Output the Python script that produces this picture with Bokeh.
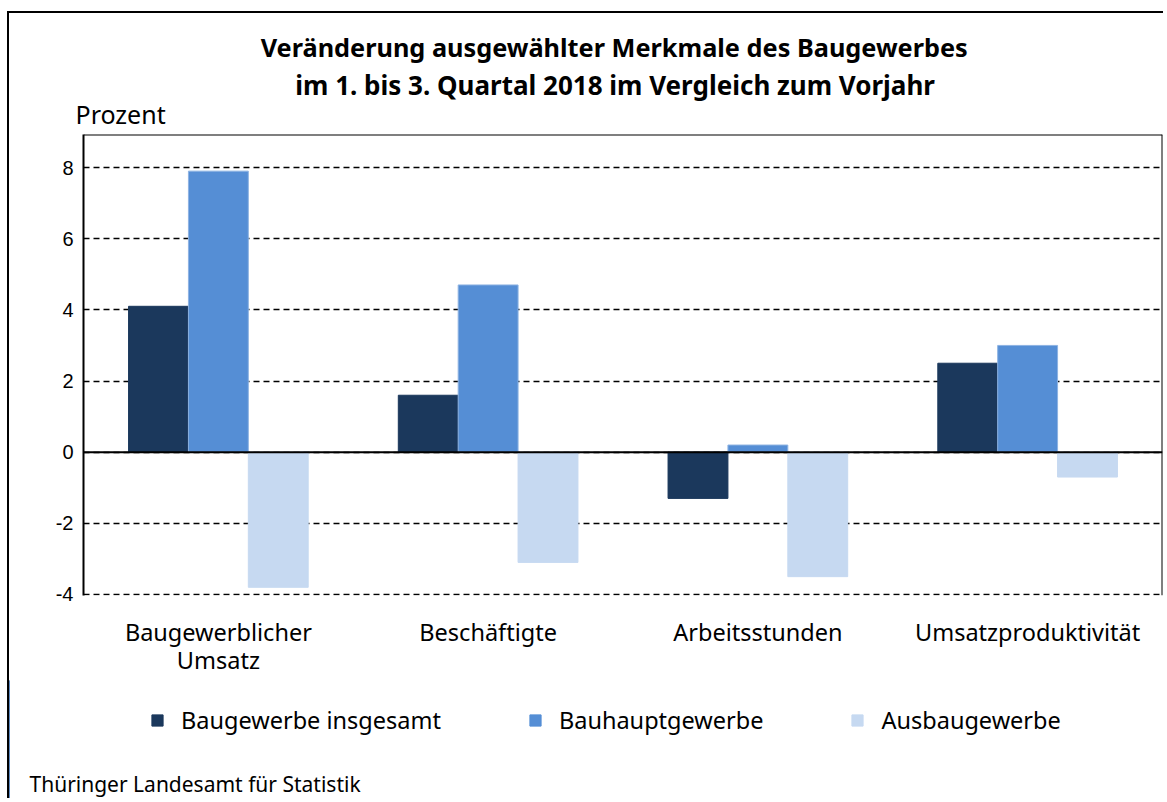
from bokeh.plotting import figure
from bokeh.models import (FactorRange, Range1d, FixedTicker, Span, Legend,
                          LegendItem, ColumnDataSource, Label)
from bokeh.layouts import column
from bokeh.transform import dodge
from bokeh.embed import file_html
from bokeh.resources import INLINE

# ---- data ----
categories = ["Baugewerblicher\nUmsatz", "Beschäftigte", "Arbeitsstunden", "Umsatzproduktivität"]
series_names = ["Baugewerbe insgesamt", "Bauhauptgewerbe", "Ausbaugewerbe"]
insgesamt = [4.1, 1.6, -1.3, 2.5]
bauhaupt = [7.9, 4.7, 0.2, 3.0]
ausbau = [-3.8, -3.1, -3.5, -0.7]
y_ticks = [-4, -2, 0, 2, 4, 6, 8]
title_lines = ["Veränderung  ausgewählter Merkmale des Baugewerbes",
               "im 1. bis 3. Quartal 2018  im Vergleich zum Vorjahr"]
y_title = "Prozent"
footer = "Thüringer Landesamt für Statistik"

colors = ["#1B385C", "#558ED5", "#C6D9F1"]
FONT = "Noto Sans"

W = 1156
y_top = 8.93


def blank(height, margin, styles):
    f = figure(x_range=Range1d(0, 1), y_range=Range1d(0, 1), width=W, height=height,
               output_backend="svg", toolbar_location=None, x_axis_location=None,
               y_axis_location=None, min_border=0, title=None)
    f.margin = margin
    f.styles = styles
    f.frame_align = False
    f.outline_line_color = None
    f.grid.visible = False
    f.background_fill_color = "white"
    f.border_fill_color = "white"
    return f


# ---------------- title strip ----------------
t = blank(120, (11, 0, 0, 7), {"border-left": "2px solid black", "border-top": "2px solid black"})
for txt, yy, fs, xx in zip(title_lines, [87, 49], ["25.3px", "26px"], [608, 609]):
    t.add_layout(Label(x=xx, y=yy, x_units="screen", y_units="screen", text=txt,
                       text_align="center", text_baseline="middle", text_font=FONT,
                       text_font_style="bold", text_font_size=fs, text_color="black"))
t.add_layout(Label(x=66, y=20, x_units="screen", y_units="screen", text=y_title,
                   text_align="left", text_baseline="middle", text_font=FONT,
                   text_font_size="25px", text_color="black"))

# ---------------- main chart ----------------
p = figure(x_range=FactorRange(factors=categories), y_range=Range1d(-4.03, y_top),
           width=W, height=549, output_backend="svg", toolbar_location=None,
           min_border_left=74, min_border_right=3, min_border_top=3,
           min_border_bottom=85, title=None)
p.margin = (0, 0, 0, 7)
p.styles = {"border-left": "2px solid black"}
p.frame_align = False
p.outline_line_color = None
p.background_fill_color = "white"
p.border_fill_color = "white"

src = ColumnDataSource(dict(cat=categories, a=insgesamt, b=bauhaupt, c=ausbau))
bw = 0.222
r1 = p.vbar(x=dodge("cat", -bw, range=p.x_range), top="a", width=bw, source=src,
            fill_color=colors[0], line_color=colors[0])
r2 = p.vbar(x=dodge("cat", 0, range=p.x_range), top="b", width=bw, source=src,
            fill_color=colors[1], line_color="#8DB3E2", line_width=1)
r3 = p.vbar(x=dodge("cat", bw, range=p.x_range), top="c", width=bw, source=src,
            fill_color=colors[2], line_color=colors[2])

p.xgrid.visible = False
p.ygrid.ticker = FixedTicker(ticks=y_ticks)
p.ygrid.grid_line_color = "black"
p.ygrid.grid_line_dash = "6 4"
p.ygrid.grid_line_width = 1.5

p.yaxis.ticker = FixedTicker(ticks=y_ticks)
p.yaxis.major_label_overrides = {t_: str(t_) for t_ in y_ticks}
p.yaxis.axis_line_color = "black"
p.yaxis.axis_line_width = 2
p.yaxis.major_tick_line_color = None
p.yaxis.major_tick_out = 0
p.yaxis.major_tick_in = 0
p.yaxis.minor_tick_line_color = None
p.yaxis.major_label_standoff = 10
p.yaxis.major_label_text_font = "Liberation Sans"
p.yaxis.major_label_text_font_size = "20px"
p.yaxis.major_label_text_color = "black"

p.xaxis.axis_line_color = None
p.xaxis.major_tick_line_color = None
p.xaxis.major_tick_out = 0
p.xaxis.major_tick_in = 0
p.xaxis.minor_tick_line_color = None
p.xaxis.major_label_standoff = 20
p.xaxis.major_label_text_font = FONT
p.xaxis.major_label_text_font_size = "23.5px"
p.xaxis.major_label_text_line_height = 0.9
p.xaxis.major_label_text_color = "black"

p.add_layout(Span(location=0, dimension="width", line_color="black", line_width=2))
p.add_layout(Span(location=y_top, dimension="width", line_color="black", line_width=2))
p.add_layout(Span(location=len(categories), dimension="height", line_color="black", line_width=2))

# ---------------- legend + source strip ----------------
q = blank(118, (0, 0, 0, 7), {"border-left": "2px solid black"})
# legend keys: one bar each, lying outside the strip's visible range
keys = [q.vbar(x=[-1], top=[vals[0]], width=0.1, fill_color=c, line_color=c)
        for c, vals in zip(colors, [insgesamt, bauhaupt, ausbau])]
legend = Legend(items=[LegendItem(label=n, renderers=[r]) for n, r in zip(series_names, keys)],
                orientation="horizontal", location=(141, 62),
                glyph_width=14, glyph_height=14, label_standoff=17, spacing=87,
                padding=0, margin=0, border_line_color=None, background_fill_alpha=0,
                label_text_font=FONT, label_text_font_size="23.5px", label_text_color="black")
q.add_layout(legend)
q.add_layout(Label(x=20, y=15, x_units="screen", y_units="screen", text=footer,
                   text_align="left", text_baseline="middle", text_font=FONT,
                   text_font_size="21px", text_color="black"))

layout = column(t, p, q, spacing=0)
open("out.html", "w").write(file_html(layout, INLINE))
